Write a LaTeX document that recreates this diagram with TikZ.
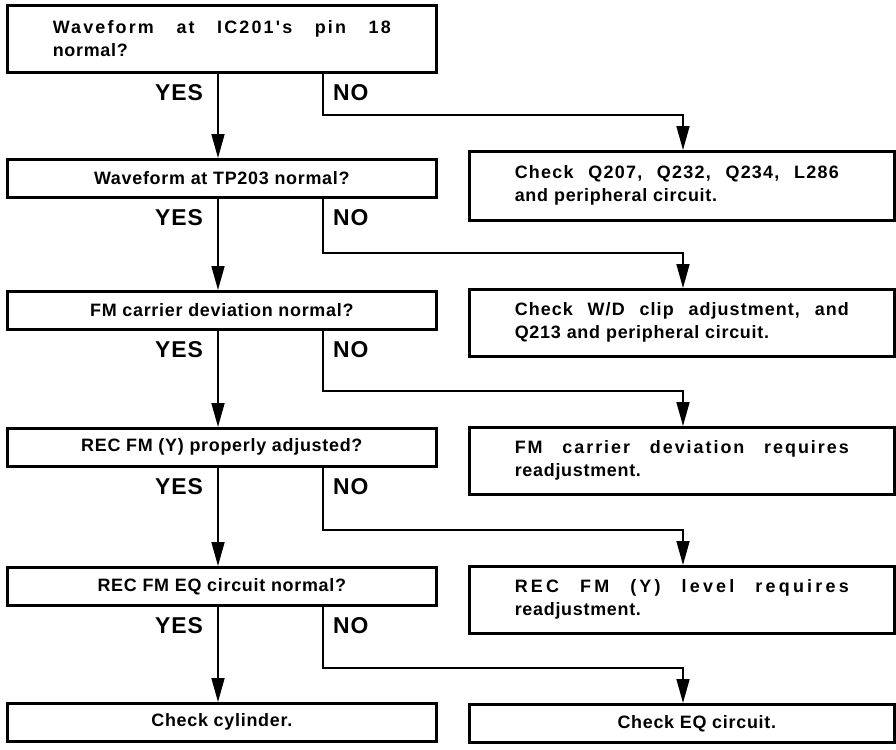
\documentclass[tikz,border=0pt]{standalone}
\usepackage{fontspec}
\setmainfont{Liberation Sans}
\newfontfamily\boxfont{Liberation Sans}[LetterSpace=4]
\newfontfamily\tagfont{Liberation Sans}[LetterSpace=4]
\usetikzlibrary{arrows.meta,calc}
% a tracked line of text spread to a fixed width: {width}{tracking}{text}
\newcommand{\spreadto}[3]{{\addfontfeature{LetterSpace=#2}\hbox to #1{#3}}}

\begin{document}
\begin{tikzpicture}[x=1bp,y=-1bp,
  box/.style={draw, line width=2.6bp, inner sep=0pt, anchor=north west,
    font=\boxfont\bfseries\fontsize{18}{23}\selectfont},
  lbox/.style={box, minimum width=429bp, minimum height=38bp},
  rbox/.style={box, minimum width=425bp, minimum height=67bp,
    text width=334bp, align=left},
  tag/.style={font=\tagfont\bfseries\fontsize{23}{23}\selectfont, inner sep=0pt},
  flow/.style={line width=1.7bp, -{Triangle[length=24bp,width=13bp]}},
]
\useasboundingbox (0,0) rectangle (896,750);

% guide columns for the connectors
\coordinate (yx) at (218,0);
\coordinate (nx) at (323,0);
\coordinate (rx) at (683,0);

% decision chain (left column)
\node[box, minimum width=429bp, minimum height=67bp, text width=338bp, align=left]
  (q1) at (6,4) {\spreadto{338bp}{12}{Waveform\hfill{} at\hfill{} IC201's\hfill{} pin\hfill{} 18}\\normal?};
\node[lbox] (q2) at (6,158) {Waveform at TP203 normal?};
\node[lbox] (q3) at (6,290) {FM carrier deviation normal?};
\node[lbox] (q4) at (6,427) {REC FM (Y) properly adjusted?};
\node[lbox] (q5) at (6,566) {REC FM EQ circuit normal?};
\node[lbox] (q6) at (6,702) {Check cylinder.};

% remedies (right column)
\node[rbox, minimum height=69bp] (r1) at (468,150)
  {\spreadto{324bp}{7}{Check\hfill{} Q207,\hfill{} Q232,\hfill{} Q234,\hfill{} L286}\\and peripheral circuit.};
\node[rbox] (r2) at (468,288)
  {\spreadto{334bp}{6}{Check\hfill{} W/D\hfill{} clip\hfill{} adjustment,\hfill{} and}\\Q213 and peripheral circuit.};
\node[rbox] (r3) at (468,426)
  {\spreadto{334bp}{11}{FM\hfill{} carrier\hfill{} deviation\hfill{} requires}\\readjustment.};
\node[rbox] (r4) at (468,565)
  {\spreadto{334bp}{18}{REC\hfill{} FM\hfill{} (Y)\hfill{} level\hfill{} requires}\\readjustment.};
\node[box, minimum width=425bp, minimum height=38bp] (r5) at (468,703)
  {\hspace*{30bp}Check EQ circuit.};

% YES branches
\foreach \a/\b in {q1/q2, q2/q3, q3/q4, q4/q5, q5/q6}
  \draw[flow] (yx |- \a.south) -- (yx |- \b.north);

% NO branches
\foreach \a/\b in {q1/r1, q2/r2, q3/r3, q4/r4, q5/r5}
  \draw[flow] (nx |- \a.south) |- ($(rx |- \b.north)+(0,-35)$) -- (rx |- \b.north);

% branch labels
\foreach \a in {q1,q2,q3,q4,q5} {
  \node[tag, anchor=east] (y\a) at ($(203,0 |- \a.south)+(0,19)$) {YES};
  \node[tag, anchor=west] (n\a) at ($(333,0 |- \a.south)+(0,19)$) {NO};
}
\end{tikzpicture}
\end{document}
